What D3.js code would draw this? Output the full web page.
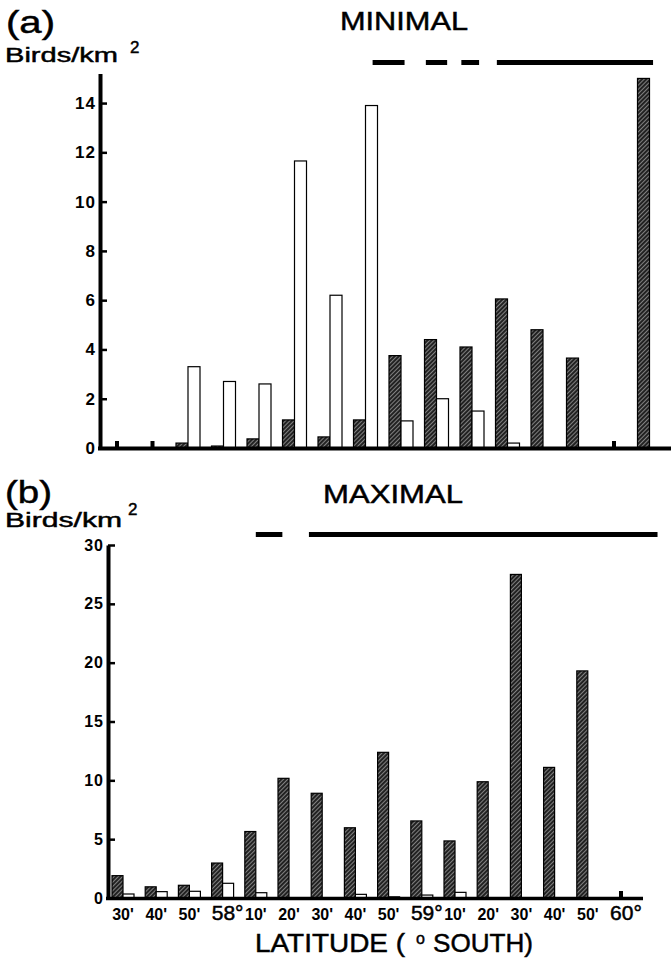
<!DOCTYPE html>
<html><head><meta charset="utf-8">
<script src="https://cdn.jsdelivr.net/npm/d3@7"></script>
<style>
html,body{margin:0;padding:0;background:#fff;}
svg{display:block;font-family:"Liberation Sans",Arial,Helvetica,sans-serif;}
</style></head>
<body>
<svg id="chart" width="671" height="959"></svg>
<script>
// ---- data ----
const latLabels = ["30'","40'","50'","58°","10'","20'","30'","40'","50'","59°","10'","20'","30'","40'","50'","60°"];
const minimalHatched = [0,0,0.2,0.08,0.37,1.14,0.45,1.14,3.75,4.4,4.1,6.05,4.8,3.65,0,15.0];
const minimalOpen    = [0,0,3.3,2.7,2.6,11.65,6.2,13.9,1.1,2.0,1.5,0.2,0,0,0,0];
const maximalHatched = [1.9,0.95,1.08,2.97,5.65,10.17,8.9,5.97,12.38,6.55,4.85,9.88,27.5,11.1,19.3,0];
const maximalOpen    = [0.34,0.54,0.57,1.25,0.45,0,0,0.31,0.1,0.25,0.48,0,0,0,0,0];
const minimalIce = [[7.2,8.1],[8.7,9.3],[9.7,10.2],[10.7,15.1]];
const maximalIce = [[4.0,4.8],[5.6,16.1]];
const minimalTicks = [0,2,4,6,8,10,12,14];
const maximalTicks = [0,5,10,15,20,25,30];

const svg = d3.select("#chart");
const defs = svg.append("defs");
const pat = defs.append("pattern").attr("id","hatch").attr("patternUnits","userSpaceOnUse")
  .attr("width",3).attr("height",3).attr("patternTransform","rotate(45)");
pat.append("rect").attr("width",3).attr("height",3).attr("fill","#222");
pat.append("line").attr("x1",1.5).attr("y1",0).attr("x2",1.5).attr("y2",3)
  .attr("stroke","#999").attr("stroke-width",0.8);

function txt(x,y,s,size,opts={}){
  const t = svg.append("text").attr("x",x).attr("y",y).text(s)
    .attr("font-size",size).attr("fill","#000")
    .attr("stroke","#000").attr("stroke-width",opts.sw!==undefined?opts.sw:0.45);
  if(opts.len){t.attr("textLength",opts.len).attr("lengthAdjust","spacingAndGlyphs");}
  if(opts.weight){t.attr("font-weight",opts.weight);}
  return t;
}

function panel(cfg){
  const idx = d3.range(latLabels.length);
  const x = d3.scaleLinear().domain([0,15]).range(cfg.xr);
  const y = d3.scaleLinear().domain(cfg.yd).range(cfg.yr);
  const g = svg.append("g");
  const w = cfg.bw;
  g.selectAll(".h").data(idx.filter(i=>cfg.hatched[i]>0)).join("rect")
    .attr("x",i=>x(i)-w).attr("width",w)
    .attr("y",i=>y(cfg.hatched[i])).attr("height",i=>y(0)-y(cfg.hatched[i]))
    .attr("fill","url(#hatch)").attr("stroke","#000").attr("stroke-width",1.2);
  g.selectAll(".o").data(idx.filter(i=>cfg.open[i]>0)).join("rect")
    .attr("x",i=>x(i)).attr("width",w)
    .attr("y",i=>y(cfg.open[i])).attr("height",i=>y(0)-y(cfg.open[i]))
    .attr("fill","#fff").attr("stroke","#000").attr("stroke-width",1.2);
  g.selectAll(".z").data(idx.filter(i=>cfg.hatched[i]===0&&cfg.open[i]===0)).join("rect")
    .attr("x",i=>x(i)-2).attr("width",4).attr("y",y(0)-7).attr("height",7).attr("fill","#000");
  g.selectAll(".ice").data(cfg.ice).join("rect")
    .attr("x",d=>x(d[0])).attr("width",d=>x(d[1])-x(d[0]))
    .attr("y",cfg.iceY).attr("height",5).attr("fill","#000");
  const ax = g.append("g").attr("transform",`translate(${cfg.axisX},0)`)
    .call(d3.axisLeft(y).tickValues(cfg.ticks).tickSizeInner(-7).tickSizeOuter(0).tickPadding(cfg.pad));
  ax.select(".domain").attr("stroke","#000").attr("stroke-width",4);
  ax.selectAll(".tick line").attr("stroke","#000").attr("stroke-width",2.5);
  ax.selectAll(".tick text").attr("font-size",cfg.tickFont).attr("font-weight","bold")
    .attr("letter-spacing",1)
    .attr("font-family","Liberation Sans, Arial, sans-serif").attr("fill","#000");
  g.append("line").attr("x1",cfg.axisX-2).attr("x2",cfg.baseEnd)
    .attr("y1",y(0)+0.5).attr("y2",y(0)+0.5).attr("stroke","#000").attr("stroke-width",cfg.baseW);
  return {x,y,g};
}

// ---- panel (a) ----
panel({xr:[117,649.5], yd:[0,15.2], yr:[448,73.5], bw:12,
  hatched:minimalHatched, open:minimalOpen, ice:minimalIce, iceY:60,
  axisX:100, ticks:minimalTicks, pad:4, tickFont:17, baseEnd:671, baseW:4});
txt(6,33,"(a)",31,{len:49});
txt(5,62,"Birds/km",20,{len:113});
txt(130,53,"2",17);
txt(340,30,"MINIMAL",25,{len:128});

// ---- panel (b) ----
const pb = panel({xr:[123,621], yd:[0,30], yr:[898,545], bw:11,
  hatched:maximalHatched, open:maximalOpen, ice:maximalIce, iceY:532,
  axisX:108, ticks:maximalTicks, pad:4, tickFont:16, baseEnd:643, baseW:3.5});
txt(5,503,"(b)",31,{len:47});
txt(5,527,"Birds/km",20,{len:117});
txt(128,515,"2",17);
txt(323,503,"MAXIMAL",25,{len:140});

pb.g.selectAll(".xl").data(d3.range(latLabels.length)).join("text")
  .attr("x",i=>pb.x(i)+(latLabels[i].includes("°")?5:0)).attr("y",920)
  .attr("text-anchor","middle")
  .attr("font-size",i=>latLabels[i].includes("°")?21:16)
  .attr("font-weight",i=>latLabels[i].includes("°")?"normal":"bold")
  .attr("stroke","#000").attr("stroke-width",i=>latLabels[i].includes("°")?0.5:0)
  .attr("fill","#000").text(i=>latLabels[i]);

txt(255,952,"LATITUDE (",25,{len:150});
txt(416,944,"o",16);
txt(433,952,"SOUTH)",25,{len:100});
</script>
</body></html>
